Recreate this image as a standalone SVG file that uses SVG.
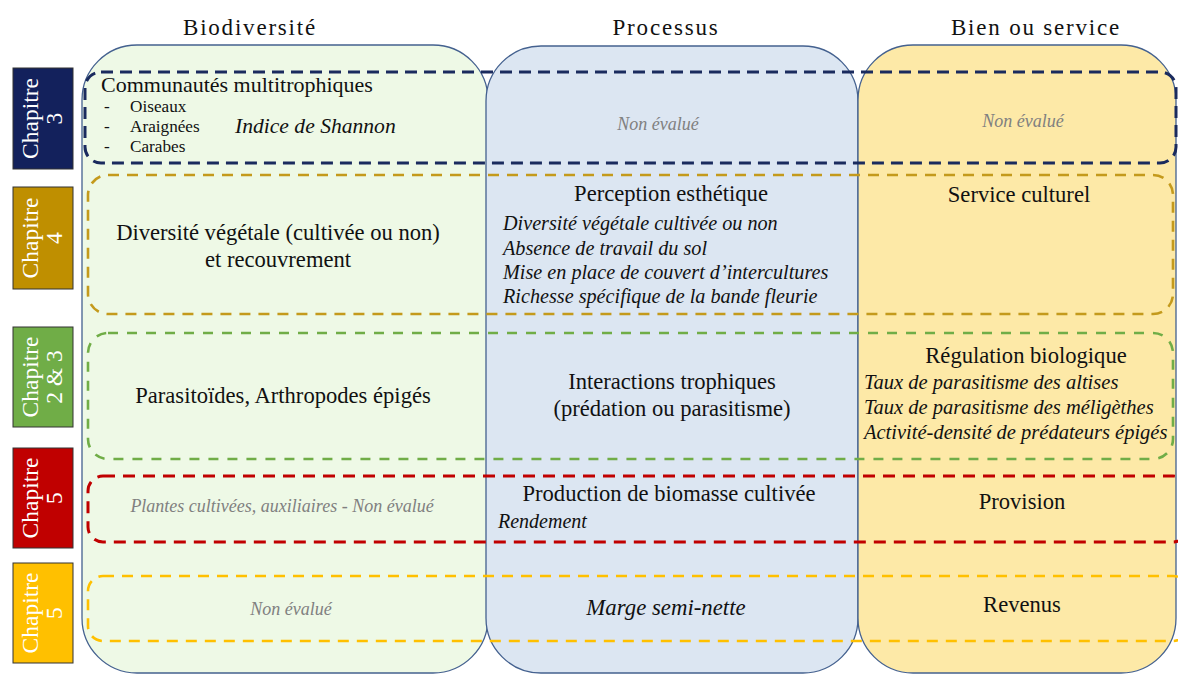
<svg xmlns="http://www.w3.org/2000/svg" width="1178" height="674" viewBox="0 0 1178 674" font-family="'Liberation Serif', 'Times New Roman', serif">
<style>
.hdr{font-family:'Liberation Serif','Times New Roman',serif;font-size:23px;letter-spacing:1.8px;text-anchor:middle;fill:#111}
.lbl{font-family:'Liberation Serif','Times New Roman',serif;font-size:22.6px;fill:#111}
.mid{text-anchor:middle}
.ital{font-family:'Liberation Serif','Times New Roman',serif;font-size:20.5px;font-style:italic;fill:#111}
.pital{font-size:20.2px}
.none{font-family:'Liberation Serif','Times New Roman',serif;font-size:18px;font-style:italic;fill:#808080;text-anchor:middle}
.small{font-family:'Liberation Serif','Times New Roman',serif;font-size:17.2px;fill:#111}
.col{stroke:#44618f;stroke-width:1.3}
.row{fill:none}
.chap{stroke:#333;stroke-width:1}
.chaptxt{font-family:'Liberation Serif','Times New Roman',serif;font-size:23.5px;fill:#fff;text-anchor:middle}
</style>
<rect width="1178" height="674" fill="#fff"/>
<g id="headers">
<text class="hdr" x="250" y="35">Biodiversité</text>
<text class="hdr" x="666" y="35">Processus</text>
<text class="hdr" x="1036" y="35">Bien ou service</text>
</g>
<g id="col-biodiversite"><rect class="col" x="82" y="45" width="406" height="628" rx="55" fill="#eef9e6"/></g>
<g id="col-processus"><rect class="col" x="486" y="46" width="372" height="627" rx="55" fill="#dce6f2"/></g>
<g id="col-bien"><rect class="col" x="858" y="45" width="318" height="628" rx="55" fill="#fde9a7"/></g>
<g id="connectors">
<rect class="row" x="85" y="72" width="1091" height="91" rx="16" stroke="#1a2b5e" stroke-width="3" stroke-dasharray="12 7"/>
<rect class="row" x="88" y="175" width="1085" height="139" rx="20" stroke="#c49a1c" stroke-width="2.6" stroke-dasharray="11 8"/>
<rect class="row" x="88" y="333" width="1085" height="126" rx="20" stroke="#70ad47" stroke-width="2.6" stroke-dasharray="10 9"/>
<rect class="row" x="88" y="476" width="1100" height="66" rx="15" stroke="#c00000" stroke-width="3" stroke-dasharray="12 8"/>
<rect class="row" x="88" y="576" width="1100" height="65" rx="15" stroke="#ffc000" stroke-width="2.6" stroke-dasharray="11 8"/>
</g>
<g id="chap3">
<rect class="chap" x="13" y="68" width="60" height="101" fill="#13215c"/>
<g transform="translate(43,118.5) rotate(-90)"><text class="chaptxt" x="0" y="-5">Chapitre</text><text class="chaptxt" x="0" y="19">3</text></g>
</g>
<g id="chap4">
<rect class="chap" x="13" y="187" width="60" height="102" fill="#bf8f00"/>
<g transform="translate(43,238) rotate(-90)"><text class="chaptxt" x="0" y="-5">Chapitre</text><text class="chaptxt" x="0" y="19">4</text></g>
</g>
<g id="chap23">
<rect class="chap" x="13" y="327" width="60" height="100" fill="#70ad47"/>
<g transform="translate(43,377) rotate(-90)"><text class="chaptxt" x="0" y="-5">Chapitre</text><text class="chaptxt" x="0" y="19">2 &amp; 3</text></g>
</g>
<g id="chap5a">
<rect class="chap" x="13" y="448" width="60" height="100" fill="#c00000"/>
<g transform="translate(43,498) rotate(-90)"><text class="chaptxt" x="0" y="-5">Chapitre</text><text class="chaptxt" x="0" y="19">5</text></g>
</g>
<g id="chap5b">
<rect class="chap" x="13" y="563" width="60" height="100" fill="#ffc000"/>
<g transform="translate(43,613) rotate(-90)"><text class="chaptxt" x="0" y="-5">Chapitre</text><text class="chaptxt" x="0" y="19">5</text></g>
</g>
<g id="row1">
<text class="lbl" x="101" y="92" style="font-size:22px">Communautés multitrophiques</text>
<text class="small" x="104" y="112">-</text><text class="small" x="130" y="112">Oiseaux</text>
<text class="small" x="104" y="132">-</text><text class="small" x="130" y="132">Araignées</text>
<text class="small" x="104" y="152">-</text><text class="small" x="130" y="152">Carabes</text>
<text class="ital" x="235" y="133" style="font-size:21.6px">Indice de Shannon</text>
<text class="none" x="658" y="130">Non évalué</text>
<text class="none" x="1023" y="127">Non évalué</text>
</g>
<g id="row2">
<text class="lbl mid" x="278" y="240">Diversité végétale (cultivée ou non)</text>
<text class="lbl mid" x="278" y="267">et recouvrement</text>
<text class="lbl mid" x="671" y="201">Perception esthétique</text>
<text class="ital pital" x="503" y="230">Diversité végétale cultivée ou non</text>
<text class="ital pital" x="503" y="255">Absence de travail du sol</text>
<text class="ital pital" x="503" y="279">Mise en place de couvert d’intercultures</text>
<text class="ital pital" x="503" y="303">Richesse spécifique de la bande fleurie</text>
<text class="lbl mid" x="1019" y="202">Service culturel</text>
</g>
<g id="row3">
<text class="lbl mid" x="283" y="403">Parasitoïdes, Arthropodes épigés</text>
<text class="lbl mid" x="672" y="389">Interactions trophiques</text>
<text class="lbl mid" x="672" y="416">(prédation ou parasitisme)</text>
<text class="lbl mid" x="1026" y="363">Régulation biologique</text>
<text class="ital" x="864" y="389">Taux de parasitisme des altises</text>
<text class="ital" x="864" y="414">Taux de parasitisme des méligèthes</text>
<text class="ital" x="864" y="439">Activité-densité de prédateurs épigés</text>
</g>
<g id="row4">
<text class="none" x="282" y="512">Plantes cultivées, auxiliaires - Non évalué</text>
<text class="lbl mid" x="669" y="501">Production de biomasse cultivée</text>
<text class="ital" x="498" y="528" style="font-size:20px">Rendement</text>
<text class="lbl mid" x="1022" y="509">Provision</text>
</g>
<g id="row5">
<text class="none" x="291" y="615">Non évalué</text>
<text class="ital mid" x="666" y="615" style="font-size:22.8px">Marge semi-nette</text>
<text class="lbl mid" x="1022" y="612">Revenus</text>
</g>
</svg>
